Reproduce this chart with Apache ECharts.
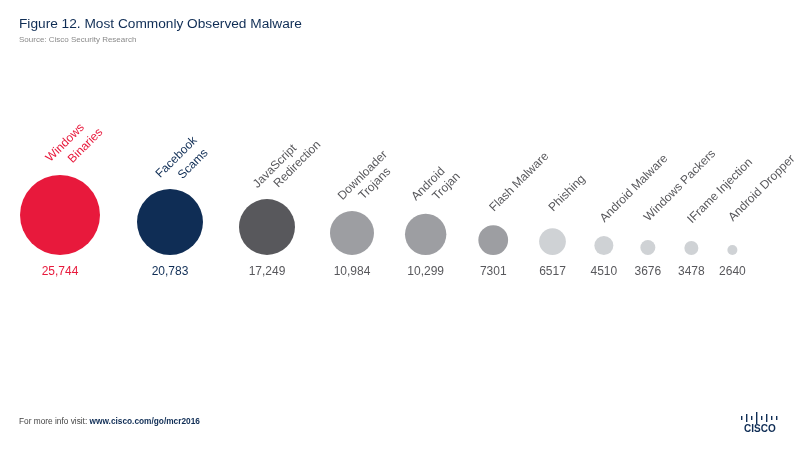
<!DOCTYPE html>
<html>
<head>
<meta charset="utf-8">
<style>html,body{margin:0;padding:0;background:#fff}#main{width:800px;height:450px}</style>
<script src="https://cdn.jsdelivr.net/npm/echarts@6/dist/echarts.min.js"></script>
</head>
<body>
<div id="main"></div>
<script>
// data
const malwareNames = ['Windows\nBinaries', 'Facebook\nScams', 'JavaScript\nRedirection', 'Downloader\nTrojans', 'Android\nTrojan', 'Flash Malware', 'Phishing', 'Android Malware', 'Windows Packers', 'IFrame Injection', 'Android Dropper']
const malwareCounts = [25744, 20783, 17249, 10984, 10299, 7301, 6517, 4510, 3676, 3478, 2640]

// layout
const sizeStops = [[2640, 10], [4510, 19], [10984, 44], [17249, 56], [25744, 80]]
const gaps = [37, 36, 35, 31, 32, 31, 28.5, 27, 29, 29]
const labelLift = [-3, -5, -3, -3, -1, 10, 13, 10, 15, 14, 20]
const labelShift = [6, 6, 4, 4, 4, 4, 4, 4, 4, 4, 4]
const startX = 20
const baseY = 255
const NAVY = '#0f2d55'
const RED = '#e8193c'
const DARK = '#58585c'
const FONT = '"Liberation Sans", Arial, sans-serif'

const sizeOf = v => {
  for (let i = 1; i < sizeStops.length; i++) {
    if (v <= sizeStops[i][0]) {
      let a = sizeStops[i - 1], b = sizeStops[i]
      return a[1] + (v - a[0]) / (b[0] - a[0]) * (b[1] - a[1])
    }
  }
  return sizeStops[sizeStops.length - 1][1]
}
const sizes = malwareCounts.map(sizeOf)
let cursor = startX
const xs = sizes.map((d, i) => {
  let x = cursor + d / 2
  cursor += d + (gaps[i] || 0)
  return x
})
const fillOf = i => i == 0 ? RED : i == 1 ? NAVY : i == 2 ? DARK : i < 6 ? '#9d9ea2' : '#cfd2d5'
const textOf = i => i == 0 ? RED : i == 1 ? NAVY : DARK
const fmt = v => v >= 10000 ? v.toLocaleString('en-US') : String(v)

const chart = echarts.init(document.getElementById('main'))

const bars = [[741, 4], [746, 8], [751, 4], [756, 12], [761, 4], [766, 8], [771, 4], [776, 4]]

chart.setOption({
  animation: false,
  backgroundColor: '#fff',
  title: {
    text: 'Figure 12. Most Commonly Observed Malware',
    subtext: 'Source: Cisco Security Research',
    left: 19,
    top: 17,
    itemGap: 5,
    padding: 0,
    textStyle: { color: NAVY, fontSize: 13.7, fontWeight: 'normal', fontFamily: FONT },
    subtextStyle: { color: '#8a8a8a', fontSize: 8, fontFamily: FONT }
  },
  grid: { left: 0, top: 0, width: 800, height: baseY },
  xAxis: { type: 'value', min: 0, max: 800, show: false },
  yAxis: { type: 'value', min: 0, max: baseY, show: false },
  graphic: [
    {
      type: 'text', left: 19, top: 418,
      style: {
        rich: {
          a: { fill: '#444', fontSize: 8.3, fontFamily: FONT },
          b: { fill: NAVY, fontSize: 8.3, fontWeight: 'bold', fontFamily: FONT }
        },
        text: '{a|For more info visit: }{b|www.cisco.com/go/mcr2016}'
      }
    },
    {
      type: 'text', left: 744, top: 424,
      style: { text: 'CISCO', fill: NAVY, fontSize: 10, fontWeight: 'bold', fontFamily: FONT, letterSpacing: 0.8 }
    }
  ].concat(bars.map(b => ({
    type: 'rect',
    shape: { x: b[0], y: 418 - b[1] / 2, width: 1.4, height: b[1] },
    style: { fill: NAVY }
  }))),
  series: [
    {
      name: 'circles',
      type: 'scatter',
      clip: false,
      silent: true,
      symbolOffset: [0, '-50%'],
      data: malwareCounts.map((v, i) => ({
        value: [xs[i], 0, v],
        symbolSize: sizes[i],
        itemStyle: { color: fillOf(i), opacity: 1 }
      }))
    },
    {
      name: 'counts',
      type: 'scatter',
      clip: false,
      silent: true,
      symbolSize: 1,
      itemStyle: { color: 'transparent', opacity: 1 },
      data: malwareCounts.map((v, i) => ({
        value: [xs[i], 0, v],
        label: {
          show: true,
          position: 'bottom',
          distance: 10,
          formatter: fmt(v),
          color: textOf(i),
          fontSize: 12,
          fontFamily: FONT
        }
      }))
    },
    {
      name: 'names',
      type: 'scatter',
      clip: false,
      silent: true,
      symbolSize: 1,
      itemStyle: { color: 'transparent', opacity: 1 },
      data: malwareNames.map((n, i) => {
        let parts = n.split('\n')
        let color = textOf(i)
        let lh = i < 2 ? 16.5 : 14.5
        return {
          value: [xs[i], sizes[i], malwareCounts[i]],
          label: {
            show: true,
            position: [labelShift[i], -labelLift[i]],
            rotate: 45,
            align: 'left',
            verticalAlign: 'bottom',
            formatter: parts.length > 1 ? '{a|' + parts[0] + '}\n{b|' + parts[1] + '}' : '{a|' + n + '}',
            rich: {
              a: { color: color, fontSize: 12, fontFamily: FONT, lineHeight: lh },
              b: { color: color, fontSize: 12, fontFamily: FONT, lineHeight: lh, padding: [0, 0, 0, 15] }
            }
          }
        }
      })
    }
  ]
})
</script>
</body>
</html>
